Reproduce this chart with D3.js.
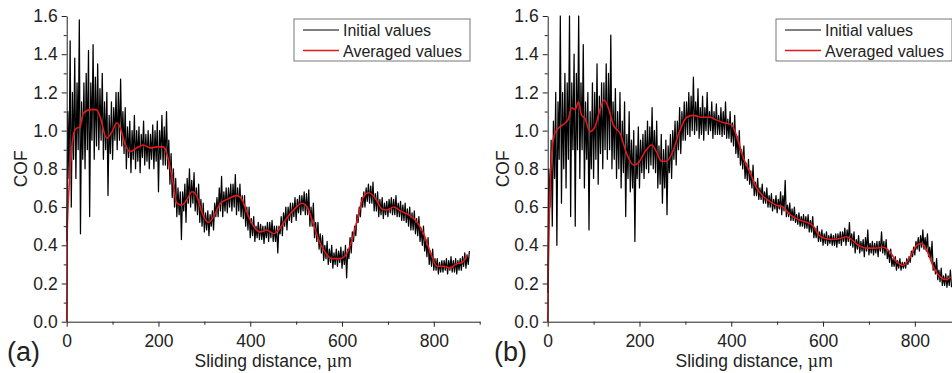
<!DOCTYPE html>
<html>
<head>
<meta charset="utf-8">
<script src="https://cdn.jsdelivr.net/npm/d3@7"></script>
<style>
  html, body { margin: 0; padding: 0; background: #fff; overflow: hidden; }
  svg { display: block; font-family: "Liberation Sans", Arial, sans-serif; }
</style>
</head>
<body>
<div id="chart"></div>
<script>
// sampling interval of the raw friction record, µm
const sampleStep = 2.5;

// panel (a): raw COF every 2.5 µm, from 0 µm
const initialA = [
  0.42, 1.10, 0.75, 1.47, 0.60, 1.20, 0.85, 1.38, 0.75, 1.25, 0.90, 1.58, 0.46, 1.15, 0.85, 1.25,
  0.80, 1.30, 0.90, 1.42, 0.55, 1.25, 0.95, 1.45, 0.85, 1.28, 0.92, 1.35, 0.90, 1.22, 0.95, 1.30,
  0.85, 1.15, 0.90, 1.20, 0.66, 1.08, 0.88, 1.15, 0.85, 1.12, 0.95, 1.20, 0.90, 1.20, 0.95, 1.27,
  0.92, 1.10, 0.88, 1.12, 0.80, 1.02, 0.86, 1.05, 0.78, 1.00, 0.85, 1.08, 0.80, 1.00, 0.84, 1.02,
  0.78, 0.98, 0.86, 1.05, 0.82, 0.98, 0.84, 1.00, 0.80, 0.98, 0.85, 1.03, 0.80, 1.00, 0.84, 1.05,
  0.68, 1.00, 0.85, 1.08, 0.82, 1.02, 0.82, 1.10, 0.80, 0.95, 0.72, 0.88, 0.65, 0.80, 0.60, 0.75,
  0.55, 0.70, 0.56, 0.68, 0.43, 0.68, 0.58, 0.72, 0.52, 0.75, 0.62, 0.80, 0.60, 0.74, 0.62, 0.78,
  0.58, 0.70, 0.56, 0.72, 0.52, 0.64, 0.50, 0.62, 0.47, 0.57, 0.48, 0.58, 0.45, 0.56, 0.50, 0.58,
  0.48, 0.62, 0.55, 0.65, 0.55, 0.70, 0.58, 0.76, 0.55, 0.68, 0.58, 0.70, 0.57, 0.70, 0.60, 0.72,
  0.58, 0.72, 0.60, 0.77, 0.56, 0.70, 0.58, 0.72, 0.55, 0.66, 0.54, 0.66, 0.50, 0.60, 0.48, 0.60,
  0.44, 0.54, 0.45, 0.55, 0.42, 0.50, 0.44, 0.52, 0.43, 0.51, 0.43, 0.50, 0.41, 0.50, 0.44, 0.52,
  0.42, 0.52, 0.44, 0.53, 0.42, 0.50, 0.42, 0.50, 0.36, 0.50, 0.46, 0.55, 0.45, 0.57, 0.50, 0.60,
  0.48, 0.60, 0.53, 0.62, 0.52, 0.62, 0.55, 0.65, 0.53, 0.64, 0.57, 0.66, 0.56, 0.66, 0.58, 0.68,
  0.56, 0.67, 0.56, 0.69, 0.50, 0.60, 0.50, 0.62, 0.44, 0.52, 0.42, 0.52, 0.38, 0.46, 0.36, 0.45,
  0.32, 0.40, 0.33, 0.42, 0.30, 0.38, 0.31, 0.40, 0.28, 0.36, 0.30, 0.38, 0.29, 0.37, 0.31, 0.39,
  0.28, 0.37, 0.30, 0.40, 0.23, 0.38, 0.33, 0.44, 0.36, 0.47, 0.42, 0.50, 0.45, 0.56, 0.52, 0.60,
  0.55, 0.65, 0.60, 0.68, 0.60, 0.70, 0.63, 0.72, 0.62, 0.71, 0.62, 0.73, 0.58, 0.67, 0.58, 0.68,
  0.55, 0.64, 0.56, 0.65, 0.54, 0.62, 0.56, 0.63, 0.55, 0.64, 0.57, 0.65, 0.56, 0.64, 0.56, 0.66,
  0.55, 0.62, 0.55, 0.63, 0.53, 0.61, 0.53, 0.62, 0.52, 0.59, 0.50, 0.60, 0.48, 0.57, 0.48, 0.58,
  0.46, 0.54, 0.45, 0.55, 0.42, 0.49, 0.40, 0.50, 0.37, 0.43, 0.34, 0.44, 0.30, 0.37, 0.29, 0.38,
  0.27, 0.33, 0.27, 0.33, 0.25, 0.31, 0.26, 0.32, 0.26, 0.32, 0.27, 0.33, 0.25, 0.32, 0.27, 0.34,
  0.26, 0.32, 0.26, 0.33, 0.25, 0.32, 0.27, 0.33, 0.27, 0.34, 0.29, 0.36, 0.28, 0.35, 0.30, 0.37
];

// panel (a): smoothed COF
const avgDistA = [0, 1, 5, 10, 15, 20, 29, 36, 51, 65, 73, 87, 98, 109, 116, 127, 138, 153, 167, 182,
  196, 211, 218, 225, 233, 240, 251, 262, 273, 284, 295, 309, 320, 335, 349, 371, 382, 393, 407, 422,
  436, 451, 462, 476, 495, 513, 524, 535, 549, 564, 578, 596, 611, 622, 633, 647, 658, 673, 687, 698,
  713, 727, 745, 764, 778, 793, 807, 822, 836, 847, 862, 873];
const avgCofA = [0.00, 0.45, 0.70, 0.88, 0.98, 1.01, 1.02, 1.09, 1.11, 1.11, 1.07, 0.96, 0.99, 1.04, 1.02, 0.93, 0.89, 0.91, 0.925, 0.91,
  0.915, 0.915, 0.88, 0.81, 0.71, 0.62, 0.61, 0.64, 0.68, 0.655, 0.57, 0.52, 0.55, 0.62, 0.64, 0.66, 0.64, 0.57, 0.50, 0.47,
  0.48, 0.46, 0.48, 0.53, 0.585, 0.62, 0.60, 0.53, 0.43, 0.36, 0.33, 0.33, 0.36, 0.43, 0.53, 0.655, 0.675, 0.645, 0.59, 0.585,
  0.60, 0.58, 0.56, 0.52, 0.46, 0.36, 0.29, 0.29, 0.28, 0.30, 0.31, 0.35];

// panel (b): raw COF every 2.5 µm, from 0 µm
const initialB = [
  0.15, 0.80, 0.60, 0.95, 0.50, 1.05, 0.75, 1.20, 0.40, 1.15, 0.85, 1.60, 0.62, 1.20, 0.80, 1.30,
  0.70, 1.25, 0.85, 1.60, 0.55, 1.25, 0.90, 1.40, 0.50, 1.30, 0.90, 1.60, 0.75, 1.25, 0.90, 1.45,
  0.70, 1.15, 0.85, 1.20, 0.48, 1.10, 0.80, 1.25, 0.75, 1.20, 0.85, 1.35, 0.72, 1.18, 0.88, 1.25,
  0.80, 1.25, 0.90, 1.35, 0.85, 1.30, 0.90, 1.50, 0.80, 1.15, 0.85, 1.22, 0.75, 1.10, 0.80, 1.20,
  0.70, 1.05, 0.78, 1.15, 0.55, 0.98, 0.75, 1.10, 0.68, 0.95, 0.70, 1.00, 0.42, 0.92, 0.75, 1.02,
  0.70, 0.95, 0.78, 0.98, 0.75, 1.00, 0.80, 1.05, 0.78, 1.02, 0.82, 1.12, 0.80, 1.00, 0.78, 1.05,
  0.70, 0.92, 0.72, 0.98, 0.62, 0.90, 0.70, 0.95, 0.56, 0.92, 0.78, 0.98, 0.75, 1.00, 0.85, 1.05,
  0.82, 1.05, 0.90, 1.12, 0.88, 1.10, 0.95, 1.15, 0.95, 1.15, 0.98, 1.20, 0.97, 1.18, 1.00, 1.28,
  0.98, 1.15, 1.00, 1.22, 0.96, 1.12, 0.98, 1.18, 0.95, 1.12, 1.00, 1.20, 0.98, 1.10, 1.00, 1.15,
  0.96, 1.10, 0.98, 1.14, 0.98, 1.08, 0.98, 1.12, 0.97, 1.10, 0.98, 1.15, 0.96, 1.06, 0.96, 1.10,
  0.94, 1.04, 0.92, 1.08, 0.88, 0.97, 0.86, 1.00, 0.82, 0.90, 0.80, 0.92, 0.75, 0.83, 0.74, 0.85,
  0.72, 0.79, 0.70, 0.82, 0.66, 0.73, 0.66, 0.75, 0.64, 0.70, 0.64, 0.72, 0.62, 0.68, 0.62, 0.70,
  0.60, 0.66, 0.60, 0.67, 0.58, 0.64, 0.59, 0.66, 0.57, 0.64, 0.59, 0.68, 0.56, 0.66, 0.58, 0.74,
  0.55, 0.61, 0.55, 0.62, 0.53, 0.59, 0.53, 0.60, 0.52, 0.56, 0.51, 0.57, 0.50, 0.55, 0.50, 0.56,
  0.49, 0.55, 0.49, 0.56, 0.47, 0.53, 0.47, 0.55, 0.44, 0.49, 0.44, 0.50, 0.42, 0.47, 0.42, 0.48,
  0.40, 0.46, 0.41, 0.47, 0.40, 0.45, 0.41, 0.46, 0.40, 0.45, 0.40, 0.46, 0.39, 0.46, 0.41, 0.47,
  0.40, 0.47, 0.42, 0.49, 0.40, 0.48, 0.42, 0.52, 0.40, 0.46, 0.39, 0.47, 0.36, 0.43, 0.38, 0.45,
  0.36, 0.42, 0.37, 0.43, 0.34, 0.44, 0.37, 0.48, 0.35, 0.41, 0.36, 0.42, 0.35, 0.41, 0.36, 0.42,
  0.34, 0.42, 0.37, 0.47, 0.36, 0.42, 0.35, 0.43, 0.33, 0.37, 0.31, 0.38, 0.29, 0.33, 0.29, 0.34,
  0.27, 0.32, 0.28, 0.33, 0.27, 0.31, 0.28, 0.31, 0.28, 0.33, 0.30, 0.34, 0.31, 0.37, 0.34, 0.39,
  0.35, 0.42, 0.38, 0.44, 0.37, 0.45, 0.39, 0.48, 0.38, 0.44, 0.37, 0.46, 0.34, 0.39, 0.32, 0.42,
  0.27, 0.31, 0.25, 0.33, 0.22, 0.27, 0.21, 0.28, 0.19, 0.24, 0.19, 0.25, 0.18, 0.24, 0.19, 0.27,
  0.18
];

// panel (b): smoothed COF
const avgDistB = [0, 1.4, 3.6, 6.5, 11, 16, 27, 38, 45, 52, 60, 67, 74, 81, 92, 103, 114, 123, 132, 143,
  158, 172, 187, 197, 212, 227, 237, 248, 259, 274, 288, 303, 317, 335, 354, 368, 386, 401, 412, 426,
  441, 455, 470, 484, 499, 513, 528, 546, 564, 579, 590, 604, 622, 637, 651, 662, 677, 695, 713, 731,
  746, 760, 775, 790, 804, 815, 826, 840, 855, 869, 878];
const avgCofB = [0.00, 0.29, 0.55, 0.78, 0.93, 0.99, 1.02, 1.04, 1.06, 1.12, 1.11, 1.15, 1.08, 1.065, 0.995, 1.02, 1.11, 1.16, 1.12, 1.03,
  0.985, 0.88, 0.82, 0.83, 0.89, 0.925, 0.89, 0.84, 0.84, 0.90, 1.00, 1.07, 1.08, 1.07, 1.07, 1.055, 1.04, 1.03, 0.97, 0.86,
  0.78, 0.70, 0.655, 0.63, 0.61, 0.60, 0.56, 0.535, 0.52, 0.50, 0.455, 0.435, 0.43, 0.435, 0.445, 0.43, 0.40, 0.385, 0.385, 0.39,
  0.365, 0.315, 0.295, 0.34, 0.40, 0.41, 0.375, 0.29, 0.235, 0.22, 0.235];

const yTicks = [0, 0.2, 0.4, 0.6, 0.8, 1.0, 1.2, 1.4, 1.6];
const yMinor = [0.1, 0.3, 0.5, 0.7, 0.9, 1.1, 1.3, 1.5];
const xTicks = [0, 200, 400, 600, 800];
const xMinor = [100, 300, 500, 700, 900];
const legendLabels = ['Initial values', 'Averaged values'];

const W = 952, H = 373;
const svg = d3.select('#chart').append('svg').attr('width', W).attr('height', H);

const panels = [
  { tag: '(a)', left: 66.7, raw: initialA, dist: avgDistA, cof: avgCofA, legendX: 294, tagX: 7, cofX: 27 },
  { tag: '(b)', left: 547.7, raw: initialB, dist: avgDistB, cof: avgCofB, legendX: 776, tagX: 494, cofX: 509 }
];

const plotTop = 16, plotBottom = 321.7, plotW = 413;

panels.forEach(p => {
  const g = svg.append('g');

  const x = d3.scaleLinear().domain([0, 900]).range([p.left, p.left + plotW]);
  const y = d3.scaleLinear().domain([0, 1.6]).range([plotBottom, plotTop]);

  // raw trace
  const rawLine = d3.line()
    .x((d, i) => x(i * sampleStep))
    .y(d => y(d));
  g.append('path')
    .datum(p.raw)
    .attr('fill', 'none')
    .attr('stroke', '#000')
    .attr('stroke-width', 1.25)
    .attr('stroke-linejoin', 'round')
    .attr('d', rawLine);

  // averaged trace
  const avgLine = d3.line()
    .x(d => x(d[0]))
    .y(d => y(d[1]))
    .curve(d3.curveMonotoneX);
  g.append('path')
    .datum(p.dist.map((d, i) => [d, p.cof[i]]))
    .attr('fill', 'none')
    .attr('stroke', '#e3191c')
    .attr('stroke-width', 1.6)
    .attr('d', avgLine);

  // axes
  const yAxis = g.append('g')
    .attr('transform', `translate(${p.left},0)`)
    .call(d3.axisLeft(y).tickValues(yTicks).tickFormat(d3.format('.1f')).tickSize(5).tickSizeOuter(0).tickPadding(4));
  g.append('g')
    .attr('transform', `translate(${p.left},0)`)
    .call(d3.axisLeft(y).tickValues(yMinor).tickFormat('').tickSize(3).tickSizeOuter(0))
    .select('.domain').remove();

  const xAxis = g.append('g')
    .attr('transform', `translate(0,${plotBottom})`)
    .call(d3.axisBottom(x).tickValues(xTicks).tickFormat(d3.format('d')).tickSize(5).tickSizeOuter(0).tickPadding(8));
  g.append('g')
    .attr('transform', `translate(0,${plotBottom})`)
    .call(d3.axisBottom(x).tickValues(xMinor).tickFormat('').tickSize(3).tickSizeOuter(0))
    .select('.domain').remove();

  g.selectAll('.tick line').attr('stroke', '#222');
  g.selectAll('.domain').attr('stroke', '#222');
  [yAxis, xAxis].forEach(a => a.selectAll('text')
    .style('font-size', '17.5px')
    .style('font-family', '"Liberation Sans", Arial, sans-serif')
    .attr('fill', '#222'));

  // axis titles
  g.append('text')
    .attr('text-anchor', 'middle')
    .attr('transform', `translate(${p.cofX},${(plotTop + plotBottom) / 2}) rotate(-90)`)
    .style('font-size', '17.5px')
    .attr('fill', '#222')
    .text('COF');

  const title = g.append('text')
    .attr('x', x(450))
    .attr('y', 367)
    .attr('text-anchor', 'middle')
    .style('font-size', '17.5px')
    .attr('fill', '#222');
  title.append('tspan').text('Sliding distance, ');
  title.append('tspan').style('font-family', '"DejaVu Serif", serif').style('font-size', '16px').text('μ');
  title.append('tspan').text('m');

  g.append('text')
    .attr('x', p.tagX)
    .attr('y', 361)
    .style('font-size', '27px')
    .attr('fill', '#222')
    .text(p.tag);

  // legend
  const lg = g.append('g').attr('transform', `translate(${p.legendX},19)`);
  lg.append('rect')
    .attr('width', 176).attr('height', 42)
    .attr('fill', '#fff').attr('stroke', '#777').attr('stroke-width', 1);
  legendLabels.forEach((label, i) => {
    lg.append('line')
      .attr('x1', 9).attr('x2', 45)
      .attr('y1', 11 + i * 20.5).attr('y2', 11 + i * 20.5)
      .attr('stroke', i === 0 ? '#000' : '#e3191c')
      .attr('stroke-width', i === 0 ? 1 : 1.6);
    lg.append('text')
      .attr('x', 49)
      .attr('y', 17 + i * 20.5)
      .style('font-size', '16px')
      .attr('fill', '#222')
      .text(label);
  });
});
</script>
</body>
</html>
